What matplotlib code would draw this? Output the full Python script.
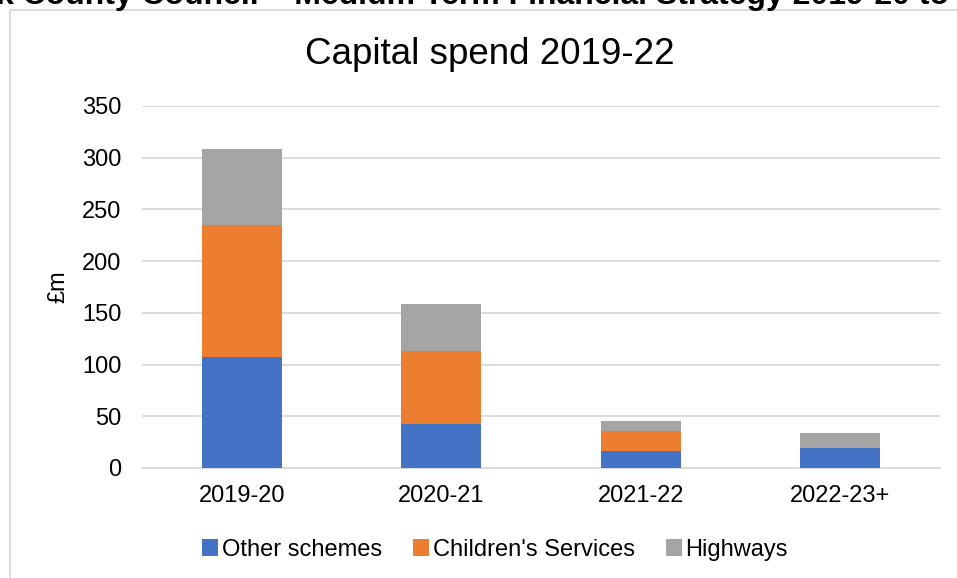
import matplotlib.pyplot as plt
import numpy as np

plt.rcParams['font.family'] = ['Liberation Sans', 'DejaVu Sans']

years = ['2019-20', '2020-21', '2021-22', '2022-23+']
other_schemes = [107, 43, 16, 19]
childrens_services = [128, 70, 20, 0]
highways = [73, 46, 9, 15]

fig = plt.figure(figsize=(9.57, 5.78), dpi=100)
ax = fig.add_axes([142 / 957, 1 - 468 / 578, 798 / 957, (468 - 106) / 578])

# page header, clipped at the top edge
fig.text(-0.004, 1 - 4 / 578, 'k County Council \u2013 Medium Term Financial Strategy 2019-20 to',
         fontsize=23, fontweight='bold', ha='left', va='baseline')

# chart border
fig.add_artist(plt.Line2D([10 / 957, 10 / 957, 1.01], [-0.01, 1 - 10 / 578, 1 - 10 / 578],
                          color='#d9d9d9', lw=1.3, transform=fig.transFigure))

x = np.arange(len(years))
w = 0.4
bottom2 = np.array(other_schemes)
bottom3 = bottom2 + np.array(childrens_services)
ax.bar(x, other_schemes, w, color='#4472c4', label='Other schemes', zorder=3)
ax.bar(x, childrens_services, w, bottom=bottom2, color='#ed7d31', label="Children's Services", zorder=3)
ax.bar(x, highways, w, bottom=bottom3, color='#a5a5a5', label='Highways', zorder=3)

ax.set_xlim(-0.5, len(years) - 0.5)
ax.set_ylim(0, 350)
ax.set_yticks(range(0, 351, 50))
ax.set_xticks(x)
ax.set_xticklabels(years)
ax.tick_params(axis='both', length=0, labelsize=17, colors='black')
ax.tick_params(axis='y', pad=15)
ax.tick_params(axis='x', pad=12)
ax.grid(axis='y', color='#d9d9d9', lw=1.3, zorder=0)
for s in ['top', 'right', 'left']:
    ax.spines[s].set_visible(False)
ax.spines['bottom'].set_color('#d9d9d9')
ax.spines['bottom'].set_linewidth(1.3)

ax.set_ylabel('\u00a3m', fontsize=17, labelpad=9)
fig.text(490 / 957, 1 - 54 / 578, 'Capital spend 2019-22', fontsize=26.5, ha='center', va='center')

fig.legend(loc='center', bbox_to_anchor=(495 / 957, 1 - 550 / 578), ncol=3, frameon=False,
           fontsize=17, handlelength=0.7, handleheight=0.7, handletextpad=0.15, columnspacing=1.3)

fig.savefig('out.png', dpi=100)
